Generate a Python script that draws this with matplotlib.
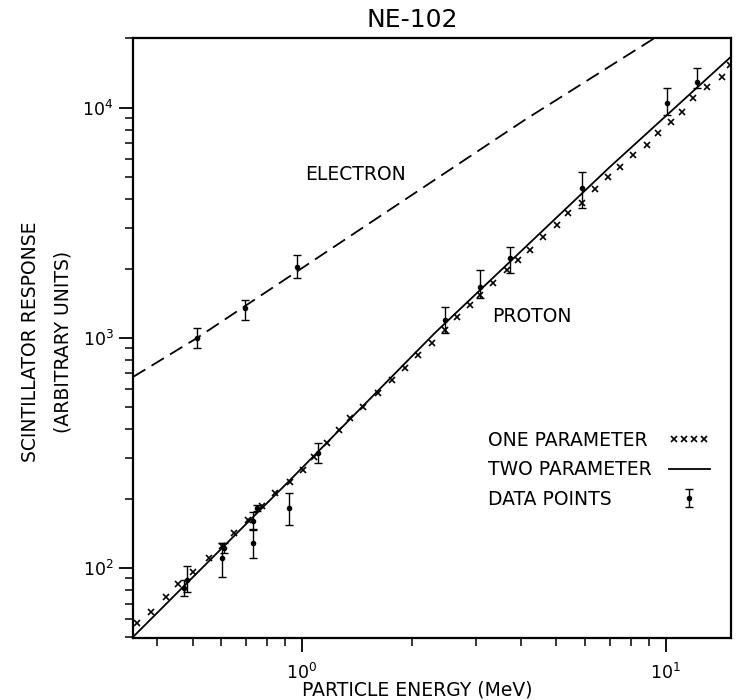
import matplotlib
matplotlib.use("Agg")
from matplotlib import pyplot as plt
from matplotlib.lines import Line2D
from matplotlib.legend_handler import HandlerLine2D

# electron response, dashed fit and measured points
electron_curve_energy = [0.343, 0.515, 4.10, 9.33]
electron_curve_response = [676, 1000, 8870, 20130]

electron_energy = [0.515, 0.697, 0.969]
electron_response = [1000, 1350, 2036]
electron_err_low = [906, 1197, 1824]
electron_err_high = [1105, 1462, 2296]

# proton response, two parameter fit (solid line)
two_param_energy = [0.343, 0.927, 2.32, 7.02, 15.1]
two_param_response = [50.1, 241, 1052, 5535, 16670]

# proton response, one parameter fit (x marks)
one_param_energy = [0.352, 0.385, 0.423, 0.456, 0.502, 0.556, 0.603, 0.650, 0.711, 0.775,
                    0.843, 0.927, 1.006, 1.08, 1.17, 1.26, 1.355, 1.47, 1.62, 1.77,
                    1.92, 2.08, 2.28, 2.47, 2.67, 2.90, 3.08, 3.35, 3.66, 3.92,
                    4.23, 4.59, 5.02, 5.38, 5.88, 6.38, 6.93, 7.48, 8.12, 8.87,
                    9.51, 10.3, 11.1, 11.9, 13.0, 14.3, 15.0]
one_param_response = [57.7, 64.4, 74.8, 85.2, 96.1, 110, 125, 142, 162, 186,
                      212, 237, 267, 305, 349, 398, 449, 501, 577, 656,
                      741, 844, 951, 1084, 1233, 1390, 1538, 1733, 1977, 2183,
                      2414, 2750, 3100, 3490, 3864, 4440, 5010, 5540, 6250, 6910,
                      7780, 8690, 9610, 11050, 12330, 13640, 15380]

# proton data points with error bars
proton_energy = [0.474, 0.483, 0.603, 0.611, 0.733, 0.733, 0.752, 0.921, 1.106,
                 2.47, 3.08, 3.73, 5.88, 10.1, 12.2]
proton_response = [81.8, 88.7, 110, 122, 128.4, 160, 182, 182, 316,
                   1197, 1667, 2228, 4488, 10510, 12980]
proton_err_low = [75.5, 78.7, 91.4, 116, 110, 147, 176, 154, 286,
                  1052, 1493, 1919, 3675, 9340, 12210]
proton_err_high = [88.7, 102, 128.4, 128.4, 146, 175, 188, 212, 349,
                   1365, 1977, 2487, 5270, 12210, 14920]

legend_labels = ['ONE PARAMETER', 'TWO PARAMETER', 'DATA POINTS']


def asym_err(values, low, high):
    return [[v - lo for v, lo in zip(values, low)], [hi - v for v, hi in zip(values, high)]]


def plot_ne102():
    plt.rcParams['font.family'] = ['DejaVu Sans']
    fig = plt.figure(figsize=(7.36, 7.0), dpi=100)
    ax = fig.add_axes([133 / 736, 62 / 700, 598 / 736, 600 / 700])
    ax.set_xscale('log')
    ax.set_yscale('log')
    ax.set_xlim(0.343, 15.1)
    ax.set_ylim(49.6, 20100)

    ax.plot(electron_curve_energy, electron_curve_response, color='k', lw=1.3, dashes=(8, 4))
    ax.errorbar(electron_energy, electron_response,
                yerr=asym_err(electron_response, electron_err_low, electron_err_high),
                fmt='o', ms=3, color='k', elinewidth=1.0, capsize=3)

    ax.plot(two_param_energy, two_param_response, color='k', lw=1.3)
    ax.plot(one_param_energy, one_param_response, ls='none', marker='x', ms=3.8, mew=1.2, color='k')
    data_handle = ax.errorbar(proton_energy, proton_response,
                              yerr=asym_err(proton_response, proton_err_low, proton_err_high),
                              fmt='o', ms=3, color='k', elinewidth=1.0, capsize=3)

    ax.text(1.02, 5120, 'ELECTRON', fontsize=13.5, va='center')
    ax.text(3.33, 1233, 'PROTON', fontsize=13.5, va='center')

    for side in ['left', 'right', 'top', 'bottom']:
        ax.spines[side].set_linewidth(1.6)
    ax.tick_params(which='major', direction='out', length=10, width=1.3, labelsize=12.5,
                   top=False, right=False, pad=4)
    ax.tick_params(which='minor', direction='out', length=6, width=1.1, top=False, right=False)
    ax.tick_params(axis='x', which='major', pad=8)

    ax.set_title('NE-102', fontsize=18, x=0.467, pad=8)
    fig.text(47 / 736, 1 - 342 / 700, 'SCINTILLATOR RESPONSE\n(ARBITRARY UNITS)', rotation=90,
             ha='center', va='center', fontsize=13.5, linespacing=1.9)
    fig.text(417 / 736, 1 - 690 / 700, 'PARTICLE ENERGY (MeV)', ha='center', va='center',
             fontsize=13.5)

    # legend as a small table: labels in the first column, symbols in the second
    blank = [Line2D([], [], visible=False) for _ in legend_labels]
    one_handle = Line2D([], [], ls='none', marker='x', ms=3.8, mew=1.2, color='k')
    two_handle = Line2D([], [], color='k', lw=1.3)
    ax.legend(blank + [one_handle, two_handle, data_handle], legend_labels + ['', '', ''],
              ncols=2, handler_map={one_handle: HandlerLine2D(numpoints=4)}, numpoints=1,
              frameon=False, loc='upper left', bbox_to_anchor=(0.525, 0.345),
              borderpad=0, borderaxespad=0, fontsize=13.5, handlelength=2.2,
              handletextpad=0.0, labelspacing=0.55, columnspacing=0.9)

    fig.savefig('out.png', dpi=100)


if __name__ == '__main__':
    plot_ne102()
